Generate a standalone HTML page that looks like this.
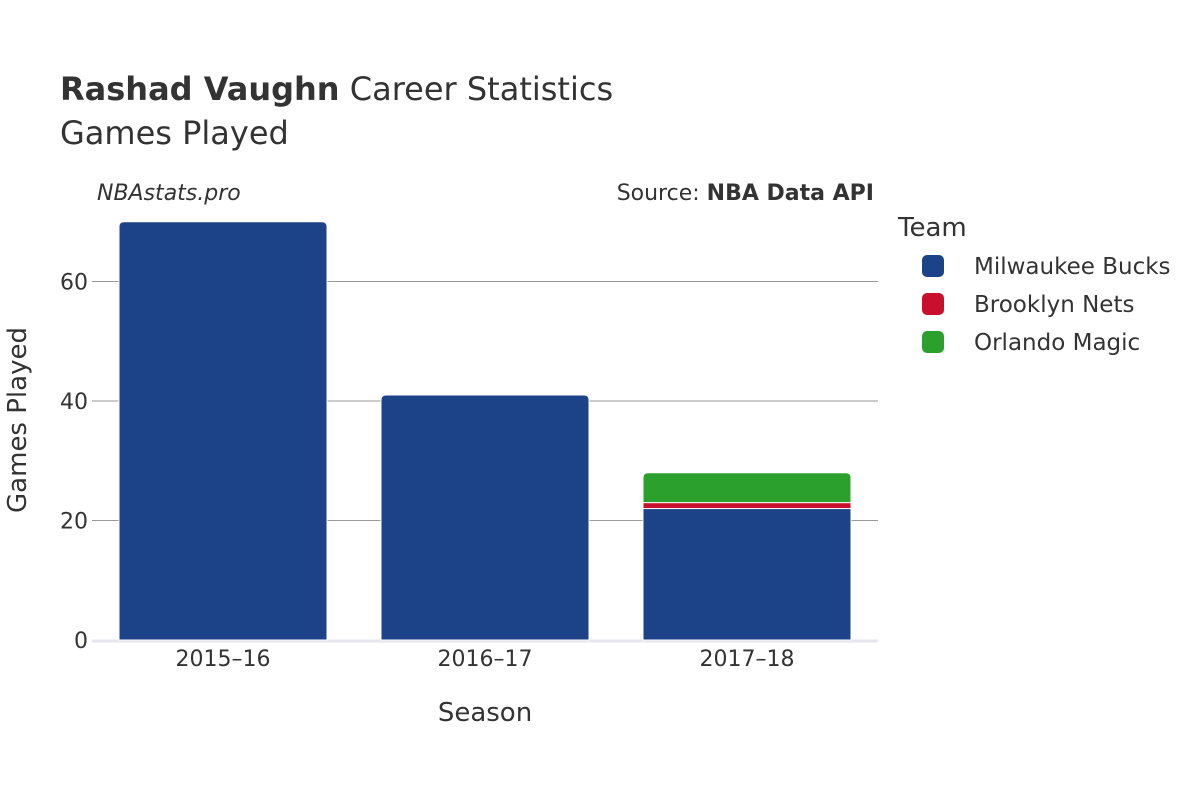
<!DOCTYPE html>
<html><head><meta charset="utf-8"><style>
body{margin:0;background:#fff;}
svg text{font-family:"DejaVu Sans","Liberation Sans",sans-serif;fill:#333;}
</style></head><body>
<svg width="1200" height="800" viewBox="0 0 1200 800">
<text x="60" y="100" font-size="32"><tspan font-weight="bold">Rashad Vaughn</tspan> Career Statistics</text>
<text x="60" y="144" font-size="32">Games Played</text>
<text x="97" y="200" font-size="22" font-style="italic">NBAstats.pro</text>
<text x="874" y="200" font-size="22" text-anchor="end">Source: <tspan font-weight="bold">NBA Data API</tspan></text>
<g id="grid"></g>
<g id="bars"></g>
<g id="xticks"></g>
<text x="485" y="721" font-size="26" text-anchor="middle">Season</text>
<text transform="translate(26,420) rotate(-90)" font-size="26" text-anchor="middle">Games Played</text>
<text x="898" y="236" font-size="26">Team</text>
<g id="legend"></g>
</svg>
<script>
const seasons=["2015–16","2016–17","2017–18"];
const bucks=[70,41,22];
const nets=[0,0,1];
const magic=[0,0,5];
const teams=["Milwaukee Bucks","Brooklyn Nets","Orlando Magic"];
const colors=["#1c4287","#c8102e","#2ca02c"];
const yTicks=[0,20,40,60];
const NS="http://www.w3.org/2000/svg";
const x0=92,x1=878,y0=640,pxPer=5.975;
const y=v=>y0-v*pxPer;
const band=(x1-x0)/seasons.length, bw=208;
function mk(t,a,p){const e=document.createElementNS(NS,t);for(const k in a)e.setAttribute(k,a[k]);p.appendChild(e);return e;}
const grid=document.getElementById('grid');
yTicks.forEach(t=>{
  if(t>0){const l=mk('line',{x1:x0,x2:x1,y1:y(t),y2:y(t),stroke:'#999','stroke-width':1},grid);
  
  }
  const tx=mk('text',{x:x0-4,y:y(t)+8,'font-size':22,'text-anchor':'end'},grid);tx.textContent=t;
  
  
});
const ax=mk('line',{x1:x0,x2:x1,y1:y0+1,y2:y0+1,stroke:'#e6e6ec','stroke-width':3},grid);


const bars=document.getElementById('bars');
const series=[bucks,nets,magic];
seasons.forEach((s,i)=>{
  const bx=x0+band*i+(band-bw)/2;let base=0;
  series.forEach((ser,j)=>{
    const v=ser[i];if(!v)return;
    const top=base+v;
    const last=series.slice(j+1).every(q=>!q[i]);
    const h=y(base)-y(top);
    let el;
    if(last){const r=5,yt=y(top),yb=y(base);
      el=mk('path',{d:`M${bx},${yb}V${yt+r}Q${bx},${yt} ${bx+r},${yt}H${bx+bw-r}Q${bx+bw},${yt} ${bx+bw},${yt+r}V${yb}Z`,fill:colors[j],stroke:'#fff','stroke-width':1},bars);}
    else el=mk('rect',{x:bx,y:y(top),width:bw,height:h,fill:colors[j],stroke:'#fff','stroke-width':1},bars);
    
    
    base=top;
  });
  const t=mk('text',{x:bx+bw/2,y:666,'font-size':22,'text-anchor':'middle'},document.getElementById('xticks'));t.textContent=s;
  
  
});
const lg=document.getElementById('legend');
teams.forEach((n,j)=>{
  const g=mk('g',{},lg);
  
  
  const cy=266+j*38;
  mk('rect',{x:922,y:cy-11,width:22,height:22,rx:5,fill:colors[j]},g);
  const t=mk('text',{x:974,y:cy+8,'font-size':23},g);t.textContent=n;
});
</script>
</body></html>
